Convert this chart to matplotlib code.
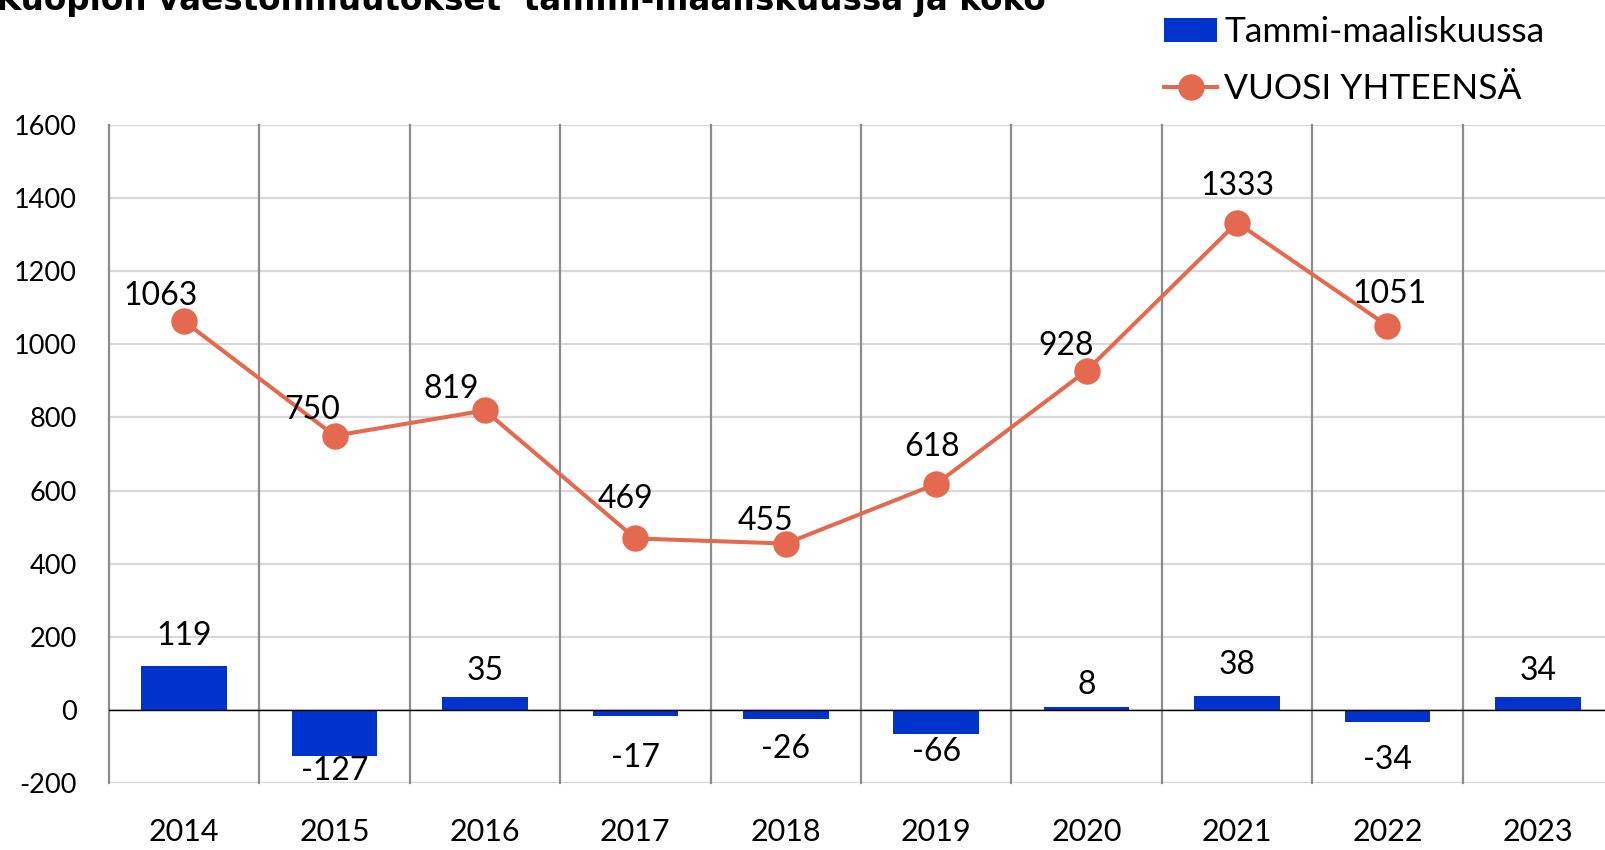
import matplotlib
matplotlib.use("Agg")
import matplotlib.pyplot as plt
from matplotlib.patches import Patch
from matplotlib.lines import Line2D

# data
years = ['2014', '2015', '2016', '2017', '2018', '2019', '2020', '2021', '2022', '2023']
q1_change = [119, -127, 35, -17, -26, -66, 8, 38, -34, 34]
year_total = [1063, 750, 819, 469, 455, 618, 928, 1333, 1051]
yticks = [-200, 0, 200, 400, 600, 800, 1000, 1200, 1400, 1600]

title = 'Kuopion väestönmuutokset  tammi-maaliskuussa ja koko'
bar_label = 'Tammi-maaliskuussa'
line_label = 'VUOSI YHTEENSÄ'

bar_color = '#0033CC'
line_color = '#E5694F'

plt.rcParams['font.family'] = ['Lato', 'DejaVu Sans']

W, H = 1605, 850
fig = plt.figure(figsize=(W / 100, H / 100), dpi=100)
# axes runs a little past the right edge of the picture, like the original
left, right, top, bottom = 109, 1613, 125, 783
ax = fig.add_axes([left / W, 1 - bottom / H, (right - left) / W, (bottom - top) / H])

x = list(range(len(years)))
ax.bar(x, q1_change, width=0.57, color=bar_color, zorder=3)
ax.plot(x[:len(year_total)], year_total, color=line_color, lw=2.9, marker='o',
        markersize=18, zorder=4)

ax.set_xlim(-0.5, len(years) - 0.5)
ax.set_ylim(-200, 1600)
ax.set_yticks(yticks)
ax.set_yticklabels([str(t) for t in yticks], fontsize=19.5)
ax.set_xticks(x)
ax.set_xticklabels(years, fontsize=22)
ax.tick_params(axis='y', length=0, pad=23)
ax.tick_params(axis='x', length=0, pad=25)

# horizontal grid
for t in yticks:
    ax.axhline(t, color='#d9d9d9', lw=1.6, zorder=1)
ax.axhline(0, color='black', lw=1.0, zorder=3.5)
# category separators
for i in range(len(years) + 1):
    ax.plot([i - 0.5, i - 0.5], [-200, 1600], color='#8c8c8c', lw=1.6, zorder=2,
            clip_on=False)
for s in ax.spines.values():
    s.set_visible(False)

# labels for the line, offsets in pixels as in the original
line_dx = [-24, -22, -34, -10, -20, -4, -20, 0, 2]
line_dy = [25, 26, 21, 39, 23, 37, 25, 37, 32]
for i, v in enumerate(year_total):
    ax.annotate(str(v), (x[i], v), xytext=(line_dx[i], line_dy[i]),
                textcoords='offset pixels', ha='center', va='center', fontsize=23,
                zorder=5)

# labels for the bars
bar_dy = [30, -15, 26, -42, -30, -18, 22, 31, -38, 26]
for i, v in enumerate(q1_change):
    ax.annotate(str(v), (x[i], v), xytext=(0, bar_dy[i]), textcoords='offset pixels',
                ha='center', va='center', fontsize=23, zorder=5)

handles = [Patch(facecolor=bar_color, edgecolor='none'),
           Line2D([], [], color=line_color, lw=2.9, marker='o', markersize=18)]
fig.legend(handles, [bar_label, line_label], loc='upper left',
           bbox_to_anchor=(1150 / W, 1 - 2 / H), frameon=False, fontsize=25.5,
           handlelength=1.5, handleheight=0.65, handletextpad=0.2, labelspacing=0.7,
           borderaxespad=0)

fig.text(-4 / W, 1 - 10 / H, title, ha='left', va='baseline', fontsize=23.5,
         fontweight='bold', family=['Liberation Sans Narrow', 'DejaVu Sans'])

fig.savefig('out.png', dpi=100)
